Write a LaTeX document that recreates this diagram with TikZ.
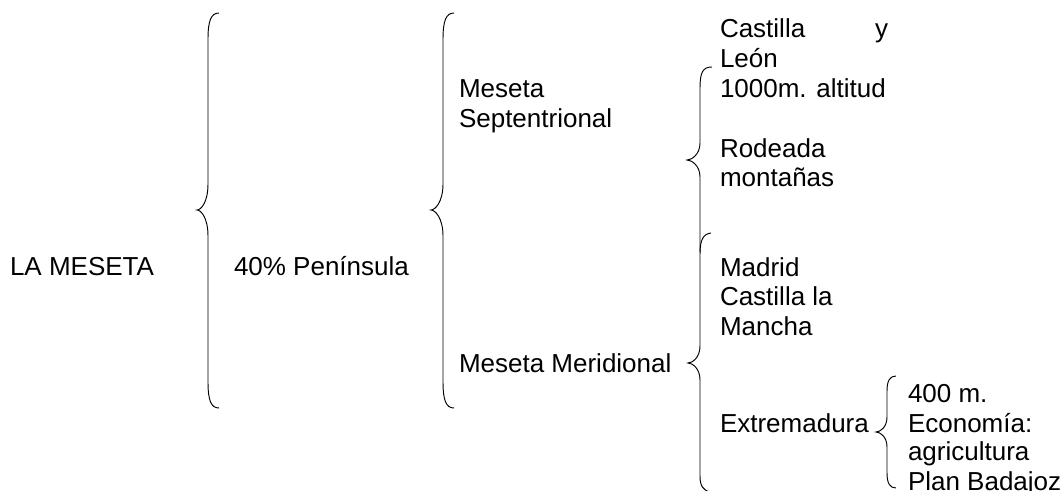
\documentclass[tikz,border=0pt]{standalone}
\usepackage{fontspec}
\setmainfont{Liberation Sans}
\tikzset{
  brc/.style={draw=black, line width=0.95pt},
  lbl/.style={anchor=base west, inner sep=0pt, outer sep=0pt, font=\fontsize{26}{30}\selectfont},
}
% #1 xv, #2 hook x, #3 tip x, #4 ytop, #5 ymid, #6 ybot, #7 hook height
\newcommand\curlybr[7]{%
  \draw[brc] (#2,#4) .. controls (#1+3,#4) and (#1,#4+#7*0.3) .. (#1,#4+#7)
    -- (#1,#5-#7) .. controls (#1,#5-#7*0.3) and (#3+4,#5) .. (#3,#5)
    .. controls (#3+4,#5) and (#1,#5+#7*0.3) .. (#1,#5+#7)
    -- (#1,#6-#7) .. controls (#1,#6-#7*0.3) and (#1+3,#6) .. (#2,#6);}
\begin{document}
\begin{tikzpicture}[x=1pt,y=-1pt]
\useasboundingbox (0,0) rectangle (1062,490);
\fill[white] (0,0) rectangle (1062,490);

% braces
\curlybr{208}{219}{197}{13}{210}{408}{26}
\curlybr{443}{454}{431}{13}{210}{408}{26}
% Septentrional brace
\draw[brc] (712,67) .. controls (703,67) and (700,72) .. (700,88)
  -- (700,143) .. controls (700,155) and (691,160) .. (687,160)
  .. controls (691,160) and (700,165) .. (700,177) -- (700,252);
% Meridional brace
\draw[brc] (711,233) .. controls (703,234) and (700,240) .. (700,254)
  -- (700,346) .. controls (700,358) and (692,363) .. (688,363)
  .. controls (692,363) and (700,368) .. (700,380)
  -- (700,476) .. controls (700,486) and (703,490) .. (710,492);
% Extremadura brace
\curlybr{887}{896}{876}{376}{432}{488}{15}

% labels
\node[lbl] (lameseta) at (10,275) {LA MESETA};
\node[lbl] (pen) at (234,275) {40\% Península};
\node[lbl] (sep1) at (459,97) {Meseta};
\node[lbl] (sep2) at (459,127) {Septentrional};
\node[lbl] (mer) at (459,372) {Meseta Meridional};
\node[lbl] (cyl1) at (720,37) {Castilla};
\node[lbl,anchor=base east] (cyly) at (888,37) {y};
\node[lbl] (cyl2) at (720,67) {León};
\node[lbl] (alt) at (720,97) {1000m. altitud};
\node[lbl] (rod1) at (720,157) {Rodeada};
\node[lbl] (rod2) at (720,186) {montañas};
\node[lbl] (mad) at (720,276) {Madrid};
\node[lbl] (clm1) at (720,305) {Castilla la};
\node[lbl] (clm2) at (720,335) {Mancha};
\node[lbl] (ext) at (720,432) {Extremadura};
\node[lbl] (e1) at (908,402) {400 m.};
\node[lbl] (e2) at (908,432) {Economía:};
\node[lbl] (e3) at (908,460) {agricultura};
\node[lbl] (e4) at (908,490) {Plan Badajoz};
\end{tikzpicture}
\end{document}
